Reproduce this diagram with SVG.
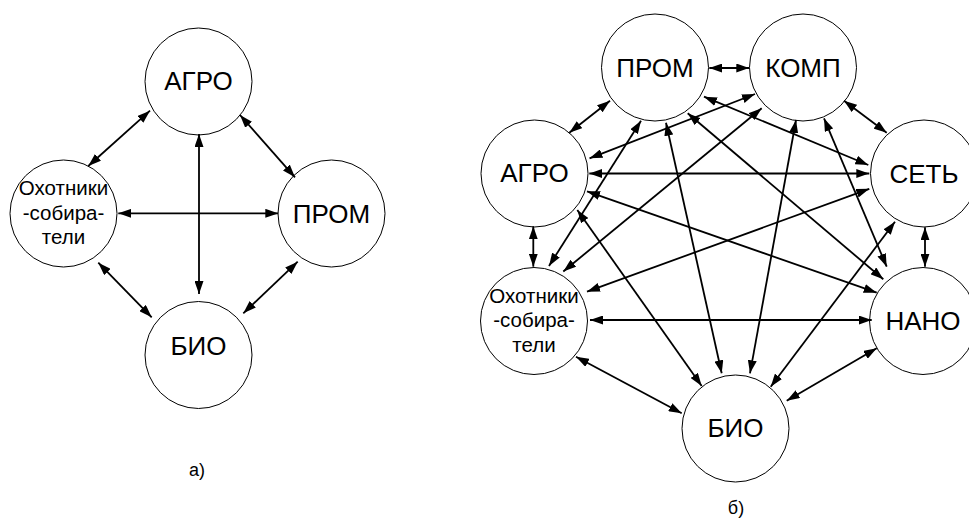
<svg xmlns="http://www.w3.org/2000/svg" width="969" height="518" viewBox="0 0 969 518">
<style>
.n circle{fill:#fff;stroke:#000;stroke-width:1}
text{font-family:"Liberation Sans",Arial,sans-serif;fill:#000;text-anchor:middle}
.big{font-size:26px}
.sm{font-size:20.5px}
.lab{font-size:18px}
#edges line{stroke:#000;stroke-width:1.8;marker-start:url(#ah);marker-end:url(#ah)}
</style>
<defs>
<marker id="ah" viewBox="0 0 13 9" refX="13" refY="4.5" markerWidth="13" markerHeight="9" markerUnits="userSpaceOnUse" orient="auto-start-reverse">
<path d="M0,0 L13,4.5 L0,9 z" fill="#000"/>
</marker>
</defs>
<rect width="969" height="518" fill="#fff"/>
<!-- Diagram a -->
<g id="a-agro" class="n"><circle cx="198.5" cy="81.5" r="53.5"/><text class="big" x="198.5" y="90">АГРО</text></g>
<g id="a-hunters" class="n"><circle cx="63.5" cy="213.5" r="53.5"/><text class="sm" x="63.5" y="195">Охотники</text><text class="sm" x="63.5" y="220">-собира-</text><text class="sm" x="63.5" y="244">тели</text></g>
<g id="a-prom" class="n"><circle cx="331.5" cy="213.5" r="53.5"/><text class="big" x="331.5" y="222.5">ПРОМ</text></g>
<g id="a-bio" class="n"><circle cx="198.5" cy="355" r="53.5"/><text class="big" x="198.5" y="355">БИО</text></g>
<!-- Diagram b -->
<g id="b-prom" class="n"><circle cx="655" cy="67.5" r="53.5"/><text class="big" x="655" y="76.5">ПРОМ</text></g>
<g id="b-komp" class="n"><circle cx="803" cy="67.5" r="53.5"/><text class="big" x="803" y="76.5">КОМП</text></g>
<g id="b-agro" class="n"><circle cx="534.5" cy="173.5" r="53.5"/><text class="big" x="534.5" y="182">АГРО</text></g>
<g id="b-set" class="n"><circle cx="924" cy="173.5" r="53.5"/><text class="big" x="924" y="182.5">СЕТЬ</text></g>
<g id="b-hunters" class="n"><circle cx="534" cy="321" r="53.5"/><text class="sm" x="534" y="302.5">Охотники</text><text class="sm" x="534" y="327">-собира-</text><text class="sm" x="534" y="351.5">тели</text></g>
<g id="b-nano" class="n"><circle cx="923" cy="321" r="53.5"/><text class="big" x="923" y="330">НАНО</text></g>
<g id="b-bio" class="n"><circle cx="735.5" cy="428.5" r="53.5"/><text class="big" x="735.5" y="437">БИО</text></g>
<g id="edges">
<line x1="150" y1="110.7" x2="88.3" y2="166"/>
<line x1="240" y1="115" x2="295" y2="177.3"/>
<line x1="199" y1="134" x2="199" y2="294"/>
<line x1="118.3" y1="213.3" x2="278.3" y2="213.3"/>
<line x1="98.3" y1="262.7" x2="151.7" y2="317.3"/>
<line x1="297.7" y1="261.7" x2="243.3" y2="313.3"/>
<line x1="709.3" y1="68" x2="749.3" y2="68"/>
<line x1="610" y1="100.7" x2="569.3" y2="132.7"/>
<line x1="844" y1="100.7" x2="886.7" y2="132.7"/>
<line x1="533.3" y1="226.3" x2="533.3" y2="266.7"/>
<line x1="925" y1="227.3" x2="925" y2="266.7"/>
<line x1="590" y1="320" x2="871.7" y2="320"/>
<line x1="576" y1="356.7" x2="681.7" y2="413.3"/>
<line x1="876.7" y1="348.3" x2="786.7" y2="400.7"/>
<line x1="589.3" y1="173.5" x2="869.3" y2="173.5"/>
<line x1="704" y1="96.7" x2="868.3" y2="165"/>
<line x1="755" y1="94" x2="589.5" y2="158.3"/>
<line x1="641" y1="120.7" x2="549" y2="266"/>
<line x1="761.7" y1="108.3" x2="563.3" y2="271.5"/>
<line x1="869.3" y1="188.8" x2="587" y2="291.7"/>
<line x1="577.3" y1="210" x2="701.7" y2="386"/>
<line x1="587" y1="191.3" x2="876.7" y2="292.7"/>
<line x1="666" y1="122.7" x2="721.7" y2="373.3"/>
<line x1="687.7" y1="113.3" x2="883.3" y2="279.3"/>
<line x1="796" y1="120" x2="750" y2="373.3"/>
<line x1="824" y1="118.3" x2="886.7" y2="266.7"/>
<line x1="895" y1="221.7" x2="770.7" y2="386.7"/>
</g>
<text class="lab" x="197" y="476">а)</text>
<text class="lab" x="736" y="514">б)</text>
</svg>
